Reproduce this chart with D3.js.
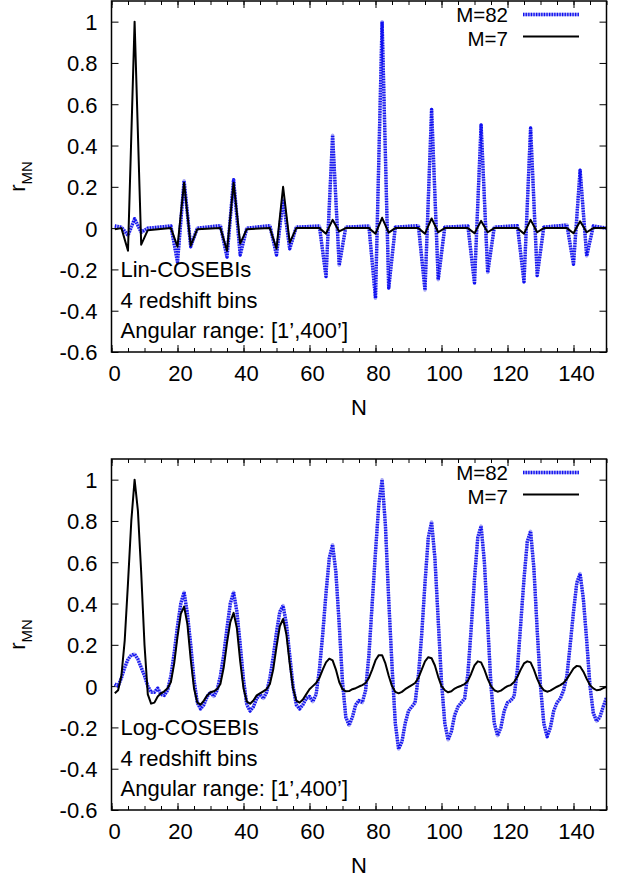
<!DOCTYPE html>
<html><head><meta charset="utf-8">
<script src="https://cdn.jsdelivr.net/npm/d3@7"></script>
<style>
body{margin:0;background:#fff}
text{font-family:"Liberation Sans",Arial,Helvetica,sans-serif;fill:#000}
</style>
</head><body>
<svg id="c" width="627" height="879"></svg>
<script>
// ---------------- data ----------------
// Lin-COSEBIs (top panel): vertices of the plotted lines
const linN = [1,3,5,7,9,11, 18,20,22,24,26, 33,35,37,39,41, 48,50,52,54,56, 63,65,67,69,71,
  78,80,82,84,86, 93,95,97,99,101, 108,110,112,114,116, 123,125,127,129,131, 138,140,142,144,146, 150];
const linM82 = [0.01,0.005,-0.035,0.045,-0.02,0, 0.01,-0.165,0.23,-0.09,0, 0.012,-0.14,0.235,-0.13,0,
  0.012,-0.13,0.14,-0.1,0.005, 0.01,-0.235,0.45,-0.18,0.005, 0.01,-0.34,1.0,-0.29,0.005,
  0.012,-0.3,0.575,-0.25,0.005, 0.01,-0.265,0.5,-0.215,0.005, 0.012,-0.26,0.485,-0.23,0.005,
  0.015,-0.175,0.28,-0.135,0.01, 0];
const linM7 = [-0.005,0,-0.11,1.0,-0.08,-0.01, 0,-0.09,0.22,-0.085,-0.005, 0,-0.11,0.22,-0.075,-0.005,
  0,-0.1,0.2,-0.07,0, 0,-0.027,0.04,-0.016,0, 0,-0.027,0.05,-0.022,0, 0,-0.027,0.047,-0.02,0,
  0,-0.025,0.035,-0.02,0, 0,-0.027,0.04,-0.02,0, 0,-0.025,0.033,-0.02,0, 0];

// Log-COSEBIs (bottom panel): N = 1..150
const logN = d3.range(1, 151);
const logM82 = [
  0.01,0.0,0.04,0.09,0.13,0.15,0.155,0.13,0.09,0.05,
  0.0,-0.03,-0.03,-0.01,-0.04,-0.045,-0.02,0.05,0.16,0.29,
  0.4,0.455,0.35,0.2,0.03,-0.08,-0.11,-0.09,-0.05,-0.03,
  -0.05,-0.02,0.05,0.15,0.28,0.4,0.455,0.36,0.2,0.03,
  -0.09,-0.12,-0.1,-0.06,-0.04,-0.06,-0.03,0.04,0.14,0.26,
  0.36,0.39,0.3,0.15,0.0,-0.09,-0.11,-0.09,-0.06,-0.05,
  -0.075,-0.04,0.08,0.25,0.45,0.62,0.685,0.55,0.3,0.02,
  -0.15,-0.19,-0.15,-0.09,-0.07,-0.08,-0.02,0.15,0.4,0.65,
  0.88,1.0,0.78,0.42,0.1,-0.18,-0.305,-0.27,-0.18,-0.12,
  -0.1,-0.08,0.05,0.25,0.5,0.72,0.795,0.62,0.32,0.02,
  -0.18,-0.26,-0.22,-0.14,-0.1,-0.08,-0.06,0.06,0.28,0.52,
  0.72,0.775,0.6,0.3,0.0,-0.18,-0.24,-0.2,-0.12,-0.08,
  -0.07,-0.05,0.08,0.3,0.52,0.7,0.75,0.57,0.27,0.0,
  -0.18,-0.245,-0.2,-0.12,-0.08,-0.06,-0.02,0.05,0.2,0.36,
  0.5,0.545,0.42,0.22,0.0,-0.13,-0.17,-0.15,-0.1,-0.056];
const logM7 = [
  -0.035,-0.02,0.05,0.22,0.5,0.8,1.0,0.85,0.55,0.2,
  -0.04,-0.085,-0.08,-0.05,-0.035,-0.025,-0.01,0.02,0.11,0.24,
  0.35,0.385,0.3,0.13,-0.01,-0.08,-0.09,-0.07,-0.045,-0.03,
  -0.025,-0.015,0.01,0.09,0.21,0.31,0.355,0.28,0.12,-0.01,
  -0.075,-0.085,-0.07,-0.045,-0.035,-0.025,-0.015,0.01,0.08,0.19,
  0.29,0.325,0.25,0.11,-0.01,-0.07,-0.08,-0.065,-0.04,-0.015,
  0.0,0.015,0.04,0.08,0.115,0.133,0.125,0.08,0.02,-0.015,
  -0.025,-0.024,-0.015,-0.01,-0.002,0.005,0.015,0.04,0.08,0.125,
  0.15,0.15,0.11,0.05,0.0,-0.028,-0.035,-0.028,-0.015,-0.005,
  0.005,0.015,0.04,0.08,0.12,0.14,0.135,0.1,0.045,0.0,
  -0.02,-0.03,-0.025,-0.012,-0.004,0.002,0.01,0.025,0.06,0.1,
  0.12,0.115,0.08,0.035,0.0,-0.02,-0.027,-0.022,-0.01,0.0,
  0.005,0.02,0.045,0.08,0.11,0.12,0.115,0.08,0.035,0.0,
  -0.02,-0.027,-0.022,-0.012,-0.003,0.005,0.016,0.035,0.06,0.085,
  0.098,0.095,0.07,0.035,0.005,-0.011,-0.02,-0.018,-0.01,-0.003];

const xTicks = [0,20,40,60,80,100,120,140];
const xMinorTicks = d3.range(0, 151, 5);
const yTicks = [-0.6,-0.4,-0.2,0,0.2,0.4,0.6,0.8,1];
const seriesNames = ["M=82", "M=7"];
const panelTexts = [
  ["Lin-COSEBIs", "4 redshift bins", "Angular range: [1\u2019,400\u2019]"],
  ["Log-COSEBIs", "4 redshift bins", "Angular range: [1\u2019,400\u2019]"]
];

// ---------------- drawing ----------------
const svg = d3.select("#c");
svg.append("rect").attr("width",627).attr("height",879).attr("fill","#fff");

const L = 111.5, R = 606.5;
const panels = [
  {top: 1, bottom: 352, N: linN, s82: linM82, s7: linM7, text: panelTexts[0]},
  {top: 459, bottom: 810, N: logN, s82: logM82, s7: logM7, text: panelTexts[1]}
];
const FS = 22;

panels.forEach((p, pi) => {
  const x = d3.scaleLinear().domain([0,150]).range([L,R]);
  const y = d3.scaleLinear().domain([-0.6,1.1]).range([p.bottom,p.top]);
  const g = svg.append("g");

  const clipId = "clip"+pi;
  svg.append("clipPath").attr("id",clipId).append("rect")
    .attr("x",L).attr("y",p.top).attr("width",R-L).attr("height",p.bottom-p.top);

  const styleAxis = sel => { sel.select(".domain").remove();
    sel.selectAll("line").attr("stroke","#000").attr("stroke-width",1);
    sel.selectAll("text").attr("font-size",FS).attr("font-family","Liberation Sans, Arial, sans-serif"); };

  g.append("g").attr("transform",`translate(0,${p.bottom})`)
    .call(d3.axisBottom(x).tickValues(xMinorTicks).tickSize(-4).tickFormat("")).call(styleAxis);
  g.append("g").attr("transform",`translate(0,${p.top})`)
    .call(d3.axisTop(x).tickValues(xMinorTicks).tickSize(-4).tickFormat("")).call(styleAxis);
  g.append("g").attr("transform",`translate(0,${p.top})`)
    .call(d3.axisTop(x).tickValues(xTicks).tickSize(-7).tickFormat("")).call(styleAxis);
  const xb = g.append("g").attr("transform",`translate(0,${p.bottom})`)
    .call(d3.axisBottom(x).tickValues(xTicks).tickSize(-7).tickPadding(10).tickFormat(d=>String(d)))
    .call(styleAxis);
  xb.selectAll("text").attr("dy",null).attr("y",null)
    .attr("transform","translate(2.5,29)").attr("dominant-baseline","auto");

  const yl = g.append("g").attr("transform",`translate(${L},0)`)
    .call(d3.axisLeft(y).tickValues(yTicks).tickSize(-7).tickPadding(14).tickFormat(d=>String(d)))
    .call(styleAxis);
  yl.selectAll("text").attr("dy","0.36em");
  g.append("g").attr("transform",`translate(${R},0)`)
    .call(d3.axisRight(y).tickValues(yTicks).tickSize(-7).tickFormat("")).call(styleAxis);

  // lines
  const idx = d3.range(p.N.length);
  const line = arr => d3.line().x(i=>x(p.N[i])).y(i=>y(arr[i]))(idx);
  const lg = g.append("g").attr("clip-path",`url(#${clipId})`);
  lg.append("path").attr("d",line(p.s82)).attr("fill","none")
    .attr("stroke","#a9a9f5").attr("stroke-width",3.4).attr("stroke-linejoin","round");
  lg.append("path").attr("d",line(p.s82)).attr("fill","none")
    .attr("stroke","#1010f0").attr("stroke-width",3.4).attr("stroke-dasharray","1.3,1.3")
    .attr("stroke-linejoin","round");
  lg.append("path").attr("d",line(p.s7)).attr("fill","none")
    .attr("stroke","#000").attr("stroke-width",2).attr("stroke-linejoin","round");

  // frame
  g.append("rect").attr("x",L).attr("y",p.top).attr("width",R-L).attr("height",p.bottom-p.top)
    .attr("fill","none").attr("stroke","#000").attr("stroke-width",1.5);

  // legend
  const legY = [p.top+13.5, p.top+35.5];
  const legText = [p.top+21, p.top+44.5];
  seriesNames.forEach((nm, k) => {
    g.append("text").attr("x",508).attr("y",legText[k]).attr("text-anchor","end")
      .attr("font-size",20.5).text(nm);
    if (k===0) {
      g.append("line").attr("x1",523).attr("x2",579).attr("y1",legY[k]).attr("y2",legY[k])
        .attr("stroke","#a9a9f5").attr("stroke-width",3.4);
      g.append("line").attr("x1",523).attr("x2",579).attr("y1",legY[k]).attr("y2",legY[k])
        .attr("stroke","#1010f0").attr("stroke-width",3.4).attr("stroke-dasharray","1.3,1.3");
    } else {
      g.append("line").attr("x1",523).attr("x2",579).attr("y1",legY[k]).attr("y2",legY[k])
        .attr("stroke","#000").attr("stroke-width",2);
    }
  });

  // annotation text
  p.text.forEach((t,k) => {
    g.append("text").attr("x",120.5).attr("y",p.bottom - 75 + k*30.7)
      .attr("font-size",FS).text(t);
  });

  // axis titles
  g.append("text").attr("x",(L+R)/2).attr("y",p.bottom+63).attr("text-anchor","middle")
    .attr("font-size",FS).text("N");
  const yt = g.append("text").attr("transform",`translate(25,${(p.top+p.bottom)/2}) rotate(-90)`)
    .attr("text-anchor","middle").attr("font-size",FS);
  yt.append("tspan").text("r");
  yt.append("tspan").attr("font-size",15).attr("dy",7).text("MN");
});
</script>
</body></html>
